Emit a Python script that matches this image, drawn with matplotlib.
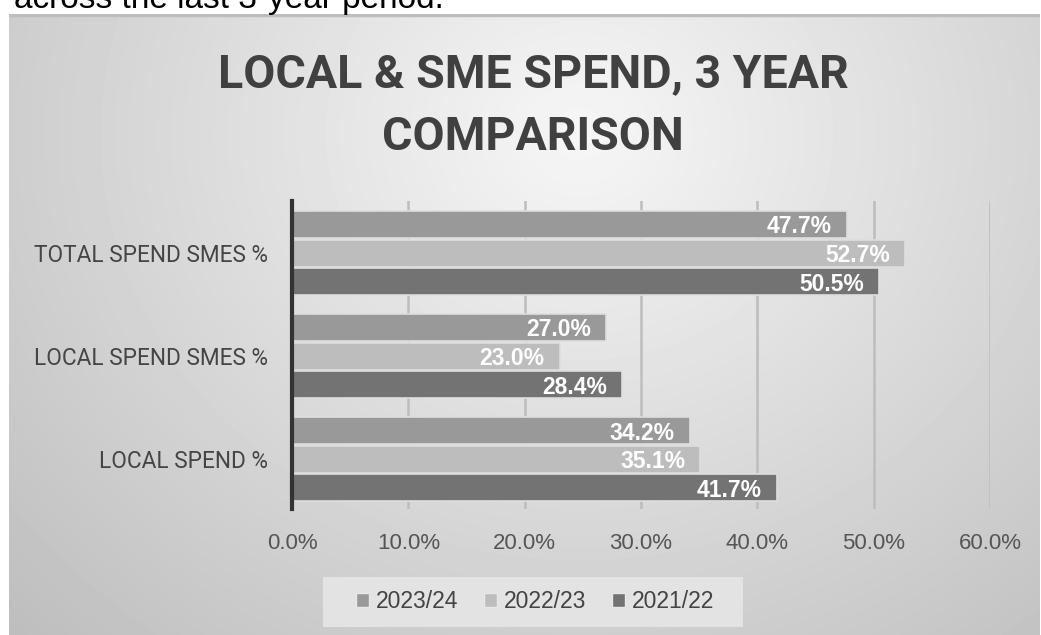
import matplotlib
matplotlib.use("Agg")
import matplotlib.pyplot as plt
import numpy as np
from matplotlib.patches import Patch, Rectangle

# data
categories = ["LOCAL SPEND %", "LOCAL SPEND SMES %", "TOTAL SPEND SMES %"]
years = ["2023/24", "2022/23", "2021/22"]
spend_2324 = [34.2, 27.0, 47.7]
spend_2223 = [35.1, 23.0, 52.7]
spend_2122 = [41.7, 28.4, 50.5]
xticks = [0, 10, 20, 30, 40, 50, 60]

colors = ["#999999", "#bdbdbd", "#737373"]
W, H = 1041, 635

fig = plt.figure(figsize=(W / 100, H / 100), dpi=100)
fig.patch.set_facecolor("white")

# radial grey backdrop of the chart box
bx0, bx1, by0, by1 = 9, 1040, 14, 635
bg = fig.add_axes([bx0 / W, 0, (bx1 - bx0) / W, (by1 - by0) / H])
yy, xx = np.mgrid[0:by1 - by0, 0:bx1 - bx0]
r = np.sqrt(((xx - 570) / 720.0) ** 2 + ((yy - 120) / 640.0) ** 2)
shade = 0.965 - 0.2 * np.clip(r, 0, 1.2)
bg.imshow(shade, cmap="gray", vmin=0, vmax=1, aspect="auto", interpolation="bilinear")
bg.axhline(0.5, color="#bebebe", lw=2.5)
bg.set_axis_off()

# caption line of the page above, cut by the crop
fig.text(14 / W, 1 - 8 / H, "across the last 3-year period.", fontsize=24,
         family="Liberation Sans", color="black", va="baseline")

fig.text(533 / W, 1 - 87 / H, "LOCAL & SME SPEND, 3 YEAR", fontsize=33.5,
         family="Roboto", weight="bold", color="#404040", ha="center", va="baseline")
fig.text(533 / W, 1 - 150 / H, "COMPARISON", fontsize=33.5,
         family="Roboto", weight="bold", color="#404040", ha="center", va="baseline")

ax = fig.add_axes([292 / W, 1 - 509 / H, (990 - 292) / W, (509 - 201) / H])
ax.patch.set_alpha(0)

y = np.arange(len(categories))
h = 0.262
offs = [0.277, 0, -0.277]
for vals, off, c, lab in zip([spend_2324, spend_2223, spend_2122], offs, colors, years):
    bars = ax.barh(y + off, vals, height=h, color=c, edgecolor="#dedede",
                   linewidth=1.2, label=lab, zorder=3)
    for b, v in zip(bars, vals):
        ax.text(v - 1.3, b.get_y() + b.get_height() / 2, f"{v:.1f}%",
                ha="right", va="center_baseline", color="white", fontsize=16.5,
                weight="bold", family="Liberation Sans", zorder=4)

ax.set_xlim(0, 60)
ax.set_ylim(-0.485, 2.505)
ax.set_xticks(xticks)
ax.set_xticklabels([f"{t:.1f}%" for t in xticks], family="Liberation Sans",
                   fontsize=16, color="#555555")
ax.set_yticks(y)
ax.set_yticklabels(categories, family="Roboto", fontsize=16.3, color="#454545")
ax.tick_params(axis="both", length=0)
ax.tick_params(axis="x", pad=17)
ax.tick_params(axis="y", pad=17)
ax.grid(axis="x", color="#bdbdbd", lw=1.8, zorder=0)
for s in ["top", "right", "bottom"]:
    ax.spines[s].set_visible(False)
ax.spines["left"].set_color("#333333")
ax.spines["left"].set_linewidth(3)
ax.spines["left"].set_zorder(5)

# legend box and entries
fig.patches.append(Rectangle((323 / W, 1 - 627 / H), 420 / W, 50 / H,
                             transform=fig.transFigure, facecolor="#e3e3e3",
                             edgecolor="none", zorder=1))
handles = [Patch(facecolor=c, edgecolor="#e8e8e8", label=l) for c, l in zip(colors, years)]
leg = fig.legend(handles=handles, loc="center", bbox_to_anchor=(535 / W, 1 - 602 / H),
                 ncol=3, frameon=False, prop={"family": "Liberation Sans", "size": 16.5},
                 handlelength=0.57, handleheight=0.57, handletextpad=0.32,
                 columnspacing=1.1, borderpad=0.2)
for t in leg.get_texts():
    t.set_color("#444444")

fig.savefig("out.png", dpi=100)
